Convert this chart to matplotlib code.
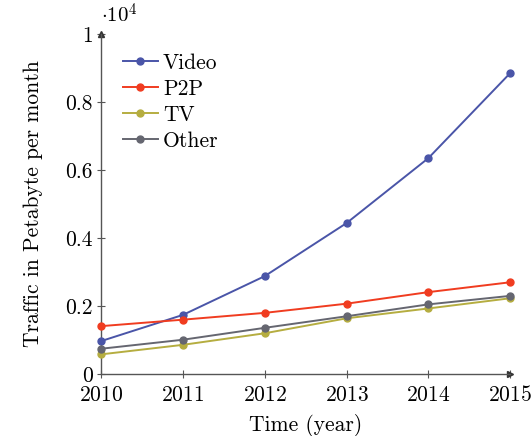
import matplotlib
matplotlib.use("Agg")
import matplotlib.pyplot as plt
from matplotlib.ticker import FuncFormatter

plt.rcParams['font.family'] = 'cmr10'
plt.rcParams['mathtext.fontset'] = 'cm'
plt.rcParams['axes.formatter.use_mathtext'] = True

# Monthly traffic per service (petabytes)
years = [2010, 2011, 2012, 2013, 2014, 2015]
video = [970, 1740, 2880, 4440, 6350, 8850]
p2p = [1410, 1600, 1800, 2070, 2410, 2700]
tv = [580, 860, 1200, 1640, 1930, 2230]
other = [745, 1010, 1360, 1700, 2050, 2300]

series = [
    ("Video", video, "#4a55a8"),
    ("P2P", p2p, "#f03c20"),
    ("TV", tv, "#b5ad40"),
    ("Other", other, "#656670"),
]

fig = plt.figure(figsize=(5.32, 4.36), dpi=100)
ax = fig.add_axes([0.19, 0.142, 0.769, 0.78])

for name, vals, col in series:
    ax.plot(years, vals, color=col, lw=1.4, marker='o', ms=5, label=name,
            clip_on=False, zorder=3)

ax.set_xlim(2010, 2015)
ax.set_ylim(0, 10000)
ax.set_xticks(years)
ax.set_yticks([0, 2000, 4000, 6000, 8000, 10000])
ax.yaxis.set_major_formatter(FuncFormatter(lambda v, p: "%g" % (v / 1e4)))

# axis lines on the left/bottom with arrow heads
for s in ['top', 'right']:
    ax.spines[s].set_visible(False)
for s in ['left', 'bottom']:
    ax.spines[s].set_color('#555555')
    ax.spines[s].set_linewidth(1.0)
ax.plot(1, 0, '>', color='#333333', ms=4, transform=ax.transAxes, clip_on=False)
ax.plot(0, 1, '^', color='#333333', ms=4, transform=ax.transAxes, clip_on=False)

ax.tick_params(direction='inout', length=6, width=0.8, color='#555555',
               labelsize=15.5)
ax.tick_params(axis='x', pad=5)
ax.tick_params(axis='y', pad=3)

ax.text(0.0, 1.02, r'$\cdot 10^4$', transform=ax.transAxes, fontsize=15,
        ha='left', va='bottom')

ax.set_xlabel("Time (year)", fontsize=15.5, labelpad=6)
ax.set_ylabel("Traffic in Petabyte per month", fontsize=15.5, labelpad=16)

ax.legend(loc='upper left', bbox_to_anchor=(0.033, 0.969), frameon=False,
          fontsize=15.5, handlelength=1.6, handletextpad=0.25,
          labelspacing=0.3, borderaxespad=0)

plt.savefig('out.png', dpi=100)
